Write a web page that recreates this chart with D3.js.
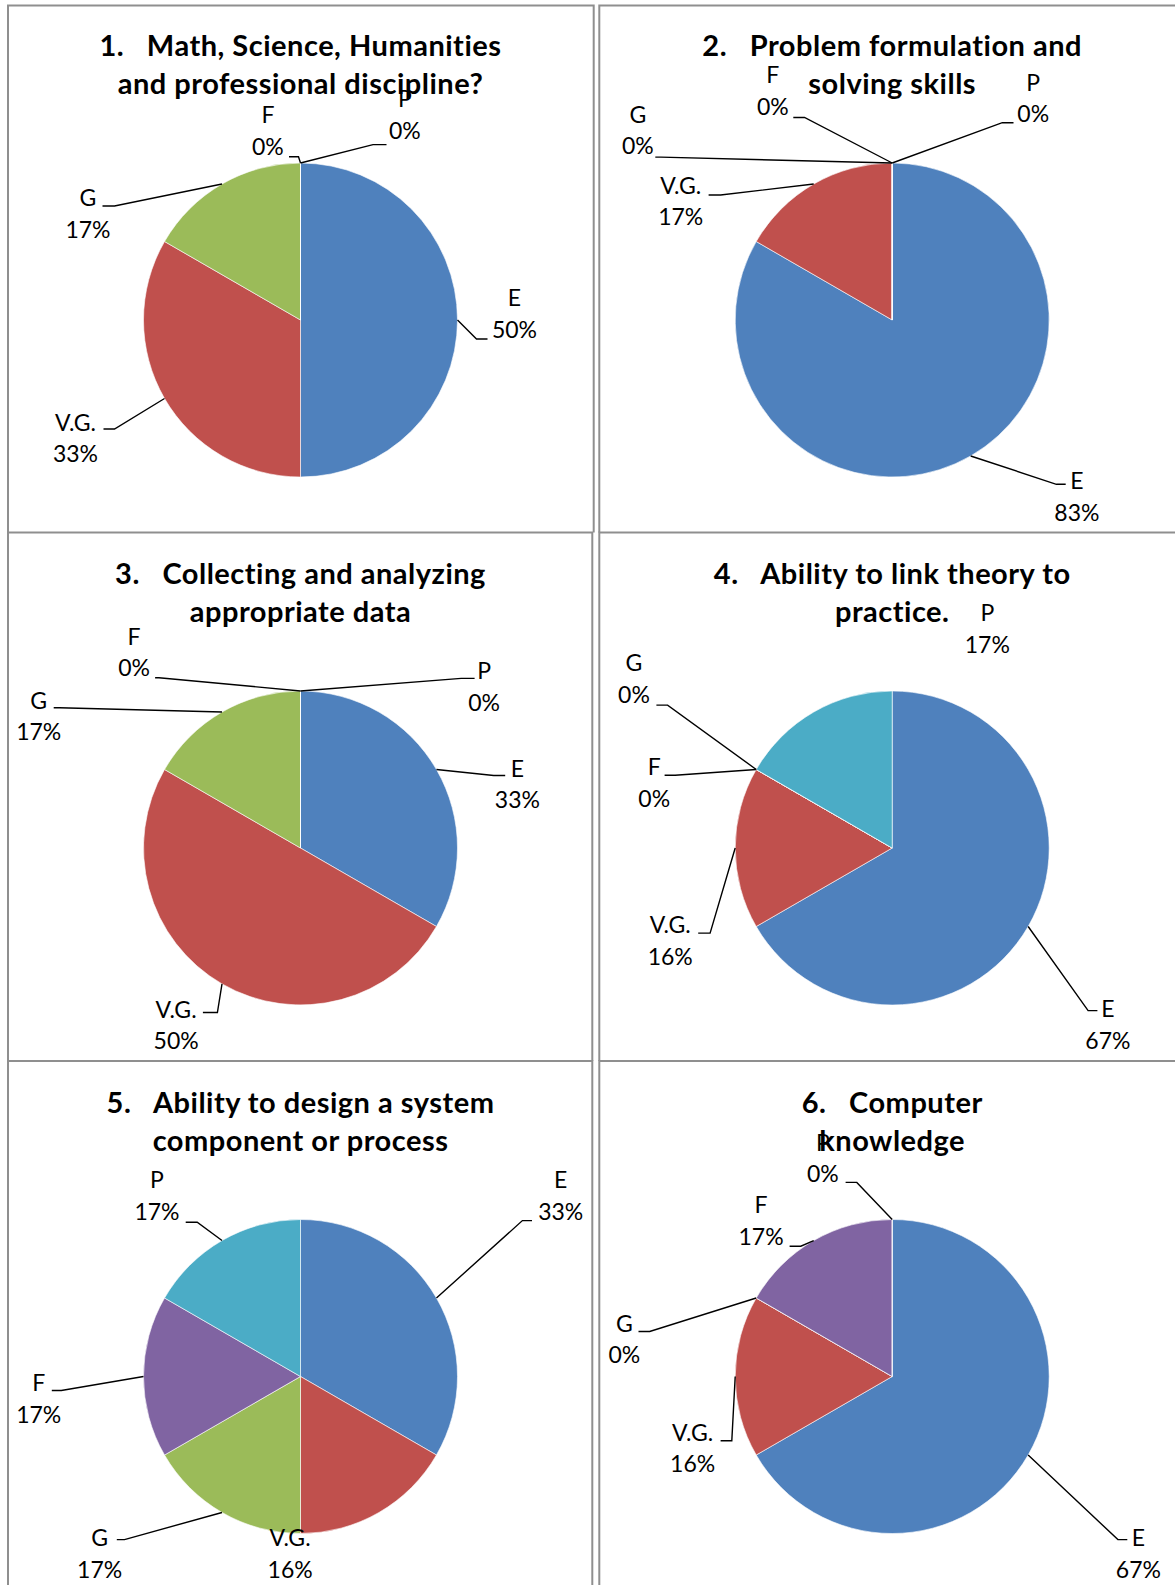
<!DOCTYPE html>
<html>
<head>
<meta charset="utf-8">
<script src="https://cdn.jsdelivr.net/npm/d3@7"></script>
<style>
    body { margin: 0; background: #fff; }
    text { font-family: Lato, "Open Sans", sans-serif; fill: #000; white-space: pre; }
    .title { font-weight: bold; font-size: 29px; letter-spacing: 0.5px; }
    .lbl { font-size: 23px; }
</style>
</head>
<body>
<div id="chart"></div>
<script>
// rating categories, same order and colours in every pie
const categories = ["E", "V.G.", "G", "F", "P"];
const colors = ["#4f81bd", "#c0504d", "#9bbb59", "#8064a2", "#4bacc6"];

const titles = [
    ["1.   Math, Science, Humanities", "and professional discipline?"],
    ["2.   Problem formulation and", "solving skills"],
    ["3.   Collecting and analyzing", "appropriate data"],
    ["4.   Ability to link theory to", "practice."],
    ["5.   Ability to design a system", "component or process"],
    ["6.   Computer", "knowledge"]
];

// responses per category (E, V.G., G, F, P)
const responses1 = [3, 2, 1, 0, 0];
const responses2 = [5, 1, 0, 0, 0];
const responses3 = [2, 3, 1, 0, 0];
const responses4 = [4, 1, 0, 0, 1];
const responses5 = [2, 1, 1, 1, 1];
const responses6 = [4, 1, 0, 1, 0];

// percentages as printed on the slices
const pct1 = ["50%", "33%", "17%", "0%", "0%"];
const pct2 = ["83%", "17%", "0%", "0%", "0%"];
const pct3 = ["33%", "50%", "17%", "0%", "0%"];
const pct4 = ["67%", "16%", "0%", "0%", "17%"];
const pct5 = ["33%", "16%", "17%", "17%", "17%"];
const pct6 = ["67%", "16%", "0%", "17%", "0%"];

const responses = [responses1, responses2, responses3, responses4, responses5, responses6];
const pcts = [pct1, pct2, pct3, pct4, pct5, pct6];

// label placement relative to pie centre: [labelX, baseline, elbowX, elbowY, tailX]
const labelLayout = [
    [[214, -14, 176, 19, 187], [-225, 110.5, -186, 109, -197], [-212.5, -114, -186, -114, -198],
        [-32.6, -196.7, -2, -163.3, -11.5], [104.4, -213, 72.5, -175.4, 86]],
    [[184.7, 169.4, 164.2, 164.3, 173.5], [-211.5, -126.1, -171.6, -125, -183.6], [-254.4, -197.3, -231.3, -162.9, -236.9],
        [-119.4, -236.9, -87.7, -202.5, -98.9], [141, -229.4, 110.1, -197.3, 121.3]],
    [[216.9, -71.4, 193.2, -72.5, 204.7], [-124.4, 169.6, -83.1, 164.5, -97.6], [-261.8, -139.3, -241.1, -140.3, -246.8],
        [-166.4, -203.3, -141.6, -170.3, -145.4], [183.6, -168.9, 160.7, -169.6, 174.1]],
    [[215.7, 169.4, 195.9, 162.6, 205.2], [-222, 85.1, -182.1, 85.1, -194], [-258.2, -176.7, -224.6, -142.9, -235.8],
        [-238, -72.7, -217.1, -72.7, -227.6], [95.1, -226.6]],
    [[260.2, -188.3, 221.9, -155.9, 231.5], [-10.4, 169.9], [-200.9, 169.9, -176, 163.1, -183.7],
        [-261.8, 14.7, -239.2, 14, -248.7], [-143.5, -188.3, -103.3, -154.2, -114.8]],
    [[246.2, 169.9, 225.7, 163.1, 235.1], [-199.6, 64.2, -160.4, 64.2, -171.6], [-267.9, -45, -242.5, -45, -253.7],
        [-131.2, -163.4, -91.4, -130.3, -102.6], [-69.3, -225.8, -35.4, -194.1, -46.6]]
];

const width = 1175;
const height = 1585;
const radius = 157;
const lineGap = 31.5;
const centersX = [300.5, 892.2];
const centersY = [320, 848, 1376.5];

const svg = d3.select("#chart").append("svg").attr("width", width).attr("height", height);

// table cell borders
const borders = svg.append("g").attr("stroke", "#8f8f8f").attr("stroke-width", 2).attr("fill", "none");
const rowTops = [5.5, 532.5, 1061];
rowTops.forEach((y, i) => {
    const bottom = i < 2 ? rowTops[i + 1] : height + 5;
    const right = i === 0 ? 593.7 : 592.3;
    borders.append("path").attr("d", `M${right},${bottom} V${y} H8 V${bottom}`);
    borders.append("path").attr("d", `M1180,${y} H599.3 V${bottom}`);
});

const pie = d3.pie().sort(null).value(d => d);
const arc = d3.arc().innerRadius(0).outerRadius(radius);

function drawChart(k) {
    const cx = centersX[k % 2];
    const cy = centersY[Math.floor(k / 2)];
    const g = svg.append("g").attr("transform", `translate(${cx},${cy})`);
    const arcs = pie(responses[k]);

    g.selectAll("path.slice").data(arcs).enter().append("path")
        .attr("class", "slice")
        .attr("d", arc)
        .attr("fill", (d, i) => colors[i])
        .attr("stroke", "#fff").attr("stroke-width", 0.6);

    arcs.forEach((d, i) => {
        const lay = labelLayout[k][i];
        const mid = (d.startAngle + d.endAngle) / 2;
        if (lay.length > 2) {
            const sx = radius * Math.sin(mid);
            const sy = -radius * Math.cos(mid);
            g.append("polyline")
                .attr("points", [[sx, sy], [lay[2], lay[3]], [lay[4], lay[3]]].map(p => p.join(",")).join(" "))
                .attr("fill", "none").attr("stroke", "#000").attr("stroke-width", 1.4);
        }
        const t = g.append("text").attr("class", "lbl").attr("text-anchor", "middle");
        t.append("tspan").attr("x", lay[0]).attr("y", lay[1]).text(categories[i]);
        t.append("tspan").attr("x", lay[0]).attr("y", lay[1] + lineGap).text(pcts[k][i]);
    });

    g.append("text").attr("class", "title").attr("text-anchor", "middle")
        .attr("x", 0).attr("y", -264).text(titles[k][0]);
    g.append("text").attr("class", "title").attr("text-anchor", "middle")
        .attr("x", 0).attr("y", -226).text(titles[k][1]);
}

for (let k = 0; k < 6; k++) drawChart(k);
</script>
</body>
</html>
